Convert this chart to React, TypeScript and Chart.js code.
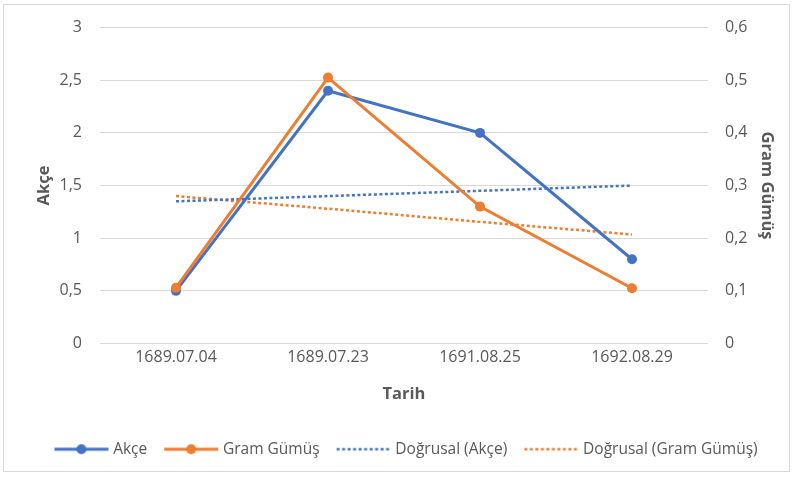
import React, { useEffect, useRef } from "react";
import { Chart, registerables } from "chart.js";

Chart.register(...registerables);

const categories = ["1689.07.04", "1689.07.23", "1691.08.25", "1692.08.29"];
const akce = [0.5, 2.4, 2.0, 0.8];
const gramGumus = [0.106, 0.505, 0.26, 0.105];
const trendAkce = [1.35, 1.4, 1.45, 1.5];
const trendGram = [0.28, 0.256, 0.231, 0.207];
const leftTicks = [0, 0.5, 1, 1.5, 2, 2.5, 3];
const rightTicks = [0, 0.1, 0.2, 0.3, 0.4, 0.5, 0.6];

const BLUE = "#4472C4";
const ORANGE = "#ED7D31";
const TEXT = "#595959";
const GRID = "#d9d9d9";
const FONT = "'Open Sans', sans-serif";

function legendIcon(color: string, dotted: boolean, marker: boolean): HTMLCanvasElement {
  const c = document.createElement("canvas");
  c.width = 56;
  c.height = 14;
  const ctx = c.getContext("2d")!;
  ctx.strokeStyle = color;
  ctx.lineWidth = dotted ? 2.5 : 3;
  if (dotted) ctx.setLineDash([3, 2.5]);
  ctx.beginPath();
  ctx.moveTo(1, 7);
  ctx.lineTo(55, 7);
  ctx.stroke();
  if (marker) {
    ctx.setLineDash([]);
    ctx.fillStyle = color;
    ctx.beginPath();
    ctx.arc(28, 7, 5, 0, Math.PI * 2);
    ctx.fill();
  }
  return c;
}

const fmt = (v: number) => String(Math.round(v * 10) / 10).replace(".", ",");

export default function App() {
  const ref = useRef<HTMLCanvasElement>(null);
  useEffect(() => {
    const icons = [
      legendIcon(BLUE, false, true),
      legendIcon(ORANGE, false, true),
      legendIcon(BLUE, true, false),
      legendIcon(ORANGE, true, false),
    ];
    const chart = new Chart(ref.current!, {
      type: "line",
      data: {
        labels: categories,
        datasets: [
          {
            label: "Akçe",
            data: akce,
            yAxisID: "y",
            borderColor: BLUE,
            backgroundColor: BLUE,
            borderWidth: 3,
            pointRadius: 5,
            pointBorderWidth: 0,
            pointHoverRadius: 5,
            tension: 0,
            order: 2,
          },
          {
            label: "Gram Gümüş",
            data: gramGumus,
            yAxisID: "y1",
            borderColor: ORANGE,
            backgroundColor: ORANGE,
            borderWidth: 3,
            pointRadius: 5,
            pointBorderWidth: 0,
            pointHoverRadius: 5,
            tension: 0,
            order: 1,
          },
          {
            label: "Doğrusal (Akçe)",
            data: trendAkce,
            yAxisID: "y",
            borderColor: BLUE,
            backgroundColor: BLUE,
            borderWidth: 2.5,
            borderDash: [3, 2.5],
            pointRadius: 0,
            tension: 0,
            order: 3,
          },
          {
            label: "Doğrusal (Gram Gümüş)",
            data: trendGram,
            yAxisID: "y1",
            borderColor: ORANGE,
            backgroundColor: ORANGE,
            borderWidth: 2.5,
            borderDash: [3, 2.5],
            pointRadius: 0,
            tension: 0,
            order: 4,
          },
        ] as any,
      },
      options: {
        animation: false,
        responsive: false,
        layout: { padding: { left: 26, right: 4, top: 18, bottom: 10 } },
        plugins: {
          tooltip: { enabled: false },
          legend: {
            position: "bottom",
            labels: {
              usePointStyle: true,
              pointStyleWidth: 48,
              padding: 20,
              color: TEXT,
              font: { family: FONT, size: 15.5 },
              generateLabels: (ch: any) =>
                ch.data.datasets.map((d: any, i: number) => ({
                  text: d.label,
                  pointStyle: icons[i],
                  fillStyle: d.borderColor,
                  strokeStyle: d.borderColor,
                  lineWidth: 0,
                  fontColor: TEXT,
                  hidden: false,
                  datasetIndex: i,
                })),
            },
          },
        },
        scales: {
          x: {
            offset: true,
            grid: { display: false, drawTicks: false },
            border: { display: false },
            ticks: { color: TEXT, font: { family: FONT, size: 16 }, padding: 4, maxRotation: 0 },
            title: {
              display: true,
              text: "Tarih",
              color: TEXT,
              font: { family: FONT, size: 16.5, weight: "bold" },
              padding: { top: 14, bottom: 17 },
            },
          },
          y: {
            position: "left",
            min: 0,
            max: 3,
            afterBuildTicks: (s: any) => {
              s.ticks = leftTicks.map((v) => ({ value: v }));
            },
            afterFit: (s: any) => {
              s.width = 74;
            },
            grid: { color: GRID, lineWidth: 1, drawTicks: false },
            border: { display: false },
            ticks: {
              color: TEXT,
              font: { family: FONT, size: 16 },
              padding: 18,
              callback: (v: any) => fmt(Number(v)),
            },
            title: {
              display: true,
              text: "Akçe",
              color: TEXT,
              font: { family: FONT, size: 16.5, weight: "bold" },
              padding: { top: 8, bottom: 0 },
            },
          },
          y1: {
            position: "right",
            min: 0,
            max: 0.6,
            afterBuildTicks: (s: any) => {
              s.ticks = rightTicks.map((v) => ({ value: v }));
            },
            afterFit: (s: any) => {
              s.width = 81;
            },
            grid: { display: false, drawTicks: false },
            border: { display: false },
            ticks: {
              color: TEXT,
              font: { family: FONT, size: 16 },
              padding: 17,
              callback: (v: any) => fmt(Number(v)),
            },
            title: {
              display: true,
              text: "Gram Gümüş",
              color: TEXT,
              font: { family: FONT, size: 16.5, weight: "bold" },
              padding: { top: 12, bottom: 0 },
            },
          },
        },
      } as any,
    });
    return () => chart.destroy();
  }, []);
  return (
    <div style={{ position: "fixed", left: 0, top: 0, width: 793, height: 477, background: "#fff" }}>
      <canvas ref={ref} width={793} height={477} style={{ position: "absolute", left: 0, top: 0 }} />
      <div
        style={{
          position: "absolute",
          left: 3,
          top: 4,
          width: 785,
          height: 466,
          border: "1px solid #d9d9d9",
          pointerEvents: "none",
        }}
      />
    </div>
  );
}
